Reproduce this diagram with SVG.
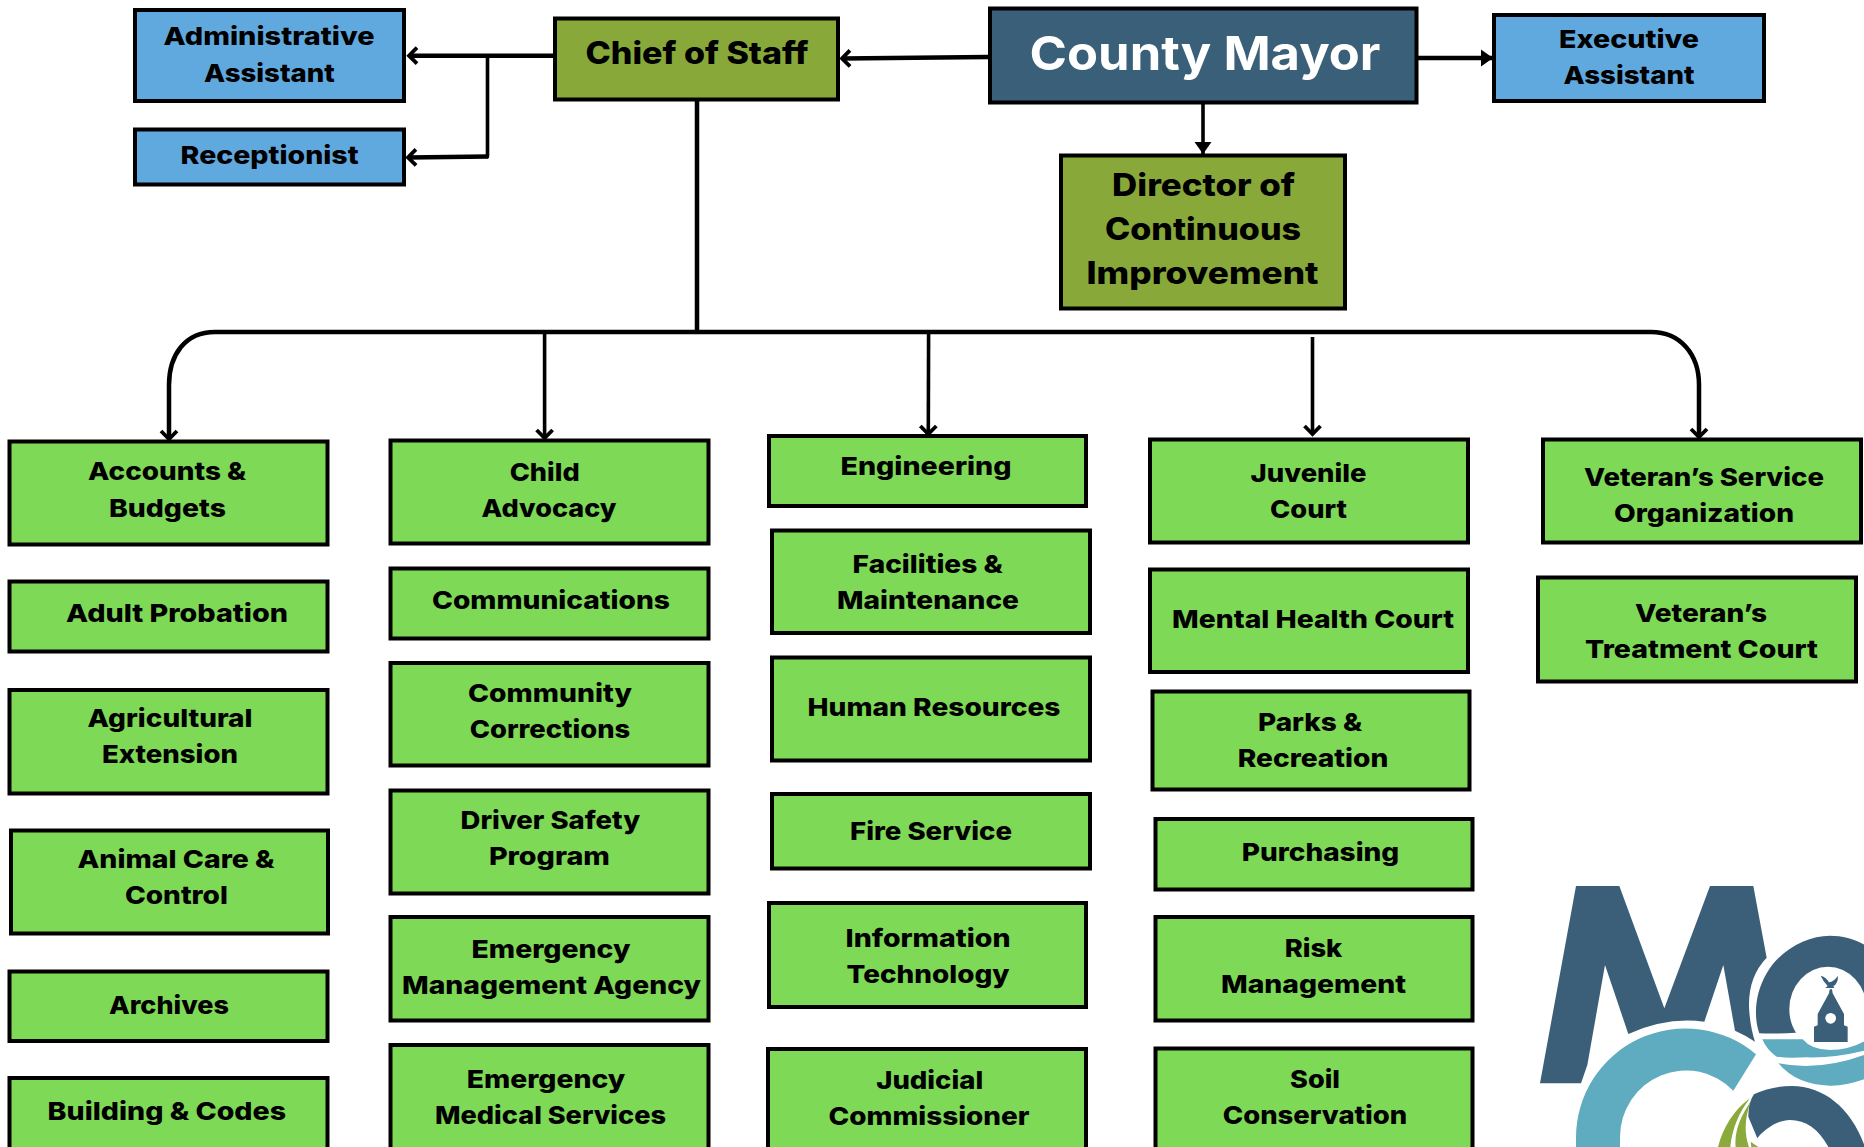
<svg xmlns="http://www.w3.org/2000/svg" width="1864" height="1147" viewBox="0 0 1864 1147">
<style>
text{font-family:"Inter","Liberation Sans",sans-serif;font-weight:800;fill:#000;text-anchor:middle;font-size:25px}
.box{stroke:#000;stroke-width:4}
.g{fill:#7ed957}.b{fill:#60a9df}.o{fill:#88a93a}.m{fill:#3a5f78}
.t{font-size:31px}.mt{font-size:47px;font-weight:700;fill:#fff}
.c{fill:none;stroke:#000;stroke-width:4.5}
.n{stroke-width:3.6}
.ld{fill:#3b5f78}.lt{fill:#5fabbf}.ll{fill:#8aab3c}
</style>
<defs>
<marker id="open" markerUnits="userSpaceOnUse" markerWidth="24" markerHeight="24" refX="14" refY="12" orient="auto"><path d="M6,4L14,12L6,20" fill="none" stroke="#000" stroke-width="3.8"/></marker>
<marker id="fill" markerUnits="userSpaceOnUse" markerWidth="24" markerHeight="24" refX="16" refY="12" orient="auto"><path d="M4,3.500L16,12L4,20.500Z" fill="#000"/></marker>
</defs>
<g id="connectors">
<path class="c" d="M553,55.700H409" marker-end="url(#open)"/>
<path class="c n" d="M487.500,55.700V156.500H489"/>
<path class="c" d="M488,156.500L408,157.500" marker-end="url(#open)"/>
<path class="c" d="M988,57L842,58.500" marker-end="url(#open)"/>
<path class="c" d="M1418,58H1493" marker-end="url(#fill)"/>
<path class="c n" d="M1203,104V154" marker-end="url(#fill)"/>
<path class="c" d="M697,101V332"/>
<path class="c" d="M215,332H1651C1681,332 1699,355 1699,385V437" marker-end="url(#open)"/>
<path class="c" d="M215,332C185,332 169,355 169,385V439" marker-end="url(#open)"/>
<path class="c n" d="M544.600,332V438" marker-end="url(#open)"/>
<path class="c n" d="M928.600,332L928.300,434" marker-end="url(#open)"/>
<path class="c n" d="M1312.500,337V434" marker-end="url(#open)"/>
</g>
<g id="county-mayor"><rect class="box m" x="990" y="8.500" width="426.500" height="94"/><text class="mt" x="1205" y="69.500" textLength="351" lengthAdjust="spacingAndGlyphs">County Mayor</text></g>
<g id="chief-of-staff"><rect class="box o" x="555" y="18.500" width="283" height="81"/><text class="t" x="697" y="64" textLength="223" lengthAdjust="spacingAndGlyphs">Chief of Staff</text></g>
<g id="administrative-assistant"><rect class="box b" x="135" y="10" width="269" height="91"/><text x="269" y="44.800" textLength="211" lengthAdjust="spacingAndGlyphs">Administrative</text><text x="269.400" y="82" textLength="131" lengthAdjust="spacingAndGlyphs">Assistant</text></g>
<g id="receptionist"><rect class="box b" x="135" y="129.500" width="269" height="55"/><text x="269.600" y="164" textLength="178" lengthAdjust="spacingAndGlyphs">Receptionist</text></g>
<g id="executive-assistant"><rect class="box b" x="1494" y="15" width="270" height="86"/><text x="1629" y="47.600" textLength="140" lengthAdjust="spacingAndGlyphs">Executive</text><text x="1629" y="83.500" textLength="131" lengthAdjust="spacingAndGlyphs">Assistant</text></g>
<g id="director"><rect class="box o" x="1061" y="155.500" width="284" height="153"/><text class="t" x="1203.600" y="196" textLength="183" lengthAdjust="spacingAndGlyphs">Director of</text><text class="t" x="1203" y="240" textLength="196" lengthAdjust="spacingAndGlyphs">Continuous</text><text class="t" x="1202.500" y="284" textLength="232" lengthAdjust="spacingAndGlyphs">Improvement</text></g>
<g id="accounts-budgets"><rect class="box g" x="9.500" y="441.500" width="318" height="103"/><text x="167" y="480" textLength="158" lengthAdjust="spacingAndGlyphs">Accounts &amp;</text><text x="167.400" y="517" textLength="117" lengthAdjust="spacingAndGlyphs">Budgets</text></g>
<g id="adult-probation"><rect class="box g" x="9.500" y="581.500" width="318" height="70"/><text x="177" y="621.600" textLength="222" lengthAdjust="spacingAndGlyphs">Adult Probation</text></g>
<g id="agricultural-extension"><rect class="box g" x="9.500" y="690" width="318" height="103.500"/><text x="170" y="727" textLength="165" lengthAdjust="spacingAndGlyphs">Agricultural</text><text x="170" y="762.500" textLength="136" lengthAdjust="spacingAndGlyphs">Extension</text></g>
<g id="animal-care"><rect class="box g" x="11" y="830.500" width="317" height="103"/><text x="176" y="868" textLength="197" lengthAdjust="spacingAndGlyphs">Animal Care &amp;</text><text x="176.400" y="904" textLength="103" lengthAdjust="spacingAndGlyphs">Control</text></g>
<g id="archives"><rect class="box g" x="9.500" y="971.500" width="318" height="69.500"/><text x="169" y="1014" textLength="120" lengthAdjust="spacingAndGlyphs">Archives</text></g>
<g id="building-codes"><rect class="box g" x="9.500" y="1078" width="318" height="90"/><text x="166.800" y="1119.500" textLength="238.400" lengthAdjust="spacingAndGlyphs">Building &amp; Codes</text></g>
<g id="child-advocacy"><rect class="box g" x="390.500" y="440.500" width="318" height="103"/><text x="544.700" y="480.600" textLength="70" lengthAdjust="spacingAndGlyphs">Child</text><text x="549" y="516.500" textLength="135" lengthAdjust="spacingAndGlyphs">Advocacy</text></g>
<g id="communications"><rect class="box g" x="390.500" y="568.500" width="318" height="70"/><text x="551" y="609" textLength="238" lengthAdjust="spacingAndGlyphs">Communications</text></g>
<g id="community-corrections"><rect class="box g" x="390.500" y="663" width="318" height="102.500"/><text x="550" y="702" textLength="164" lengthAdjust="spacingAndGlyphs">Community</text><text x="550" y="738" textLength="160.500" lengthAdjust="spacingAndGlyphs">Corrections</text></g>
<g id="driver-safety"><rect class="box g" x="390.500" y="790.500" width="318" height="103"/><text x="550.400" y="829" textLength="179.600" lengthAdjust="spacingAndGlyphs">Driver Safety</text><text x="549.400" y="865" textLength="121" lengthAdjust="spacingAndGlyphs">Program</text></g>
<g id="emergency-management"><rect class="box g" x="390.500" y="917" width="318" height="103.500"/><text x="551" y="958" textLength="159" lengthAdjust="spacingAndGlyphs">Emergency</text><text x="551.500" y="994" textLength="299" lengthAdjust="spacingAndGlyphs">Management Agency</text></g>
<g id="emergency-medical"><rect class="box g" x="390.500" y="1045" width="318" height="120"/><text x="546" y="1088" textLength="158.500" lengthAdjust="spacingAndGlyphs">Emergency</text><text x="550.500" y="1124" textLength="231" lengthAdjust="spacingAndGlyphs">Medical Services</text></g>
<g id="engineering"><rect class="box g" x="769" y="436" width="317" height="70"/><text x="926" y="474.700" textLength="171" lengthAdjust="spacingAndGlyphs">Engineering</text></g>
<g id="facilities"><rect class="box g" x="772" y="530.500" width="318" height="102.500"/><text x="927.600" y="573" textLength="150" lengthAdjust="spacingAndGlyphs">Facilities &amp;</text><text x="928" y="609" textLength="182" lengthAdjust="spacingAndGlyphs">Maintenance</text></g>
<g id="human-resources"><rect class="box g" x="772" y="657.500" width="318" height="103"/><text x="934" y="716" textLength="253" lengthAdjust="spacingAndGlyphs">Human Resources</text></g>
<g id="fire-service"><rect class="box g" x="772" y="794" width="318" height="74.500"/><text x="931" y="840" textLength="162" lengthAdjust="spacingAndGlyphs">Fire Service</text></g>
<g id="information-technology"><rect class="box g" x="769" y="903" width="317" height="104"/><text x="928" y="947" textLength="165" lengthAdjust="spacingAndGlyphs">Information</text><text x="928" y="983" textLength="163" lengthAdjust="spacingAndGlyphs">Technology</text></g>
<g id="judicial-commissioner"><rect class="box g" x="768" y="1049" width="318" height="120"/><text x="929.700" y="1089" textLength="107" lengthAdjust="spacingAndGlyphs">Judicial</text><text x="929" y="1125" textLength="201" lengthAdjust="spacingAndGlyphs">Commissioner</text></g>
<g id="juvenile-court"><rect class="box g" x="1150" y="439.500" width="318" height="103"/><text x="1308.600" y="482" textLength="116" lengthAdjust="spacingAndGlyphs">Juvenile</text><text x="1308.500" y="518" textLength="77" lengthAdjust="spacingAndGlyphs">Court</text></g>
<g id="mental-health-court"><rect class="box g" x="1150" y="569.500" width="318" height="102.500"/><text x="1313" y="628" textLength="282" lengthAdjust="spacingAndGlyphs">Mental Health Court</text></g>
<g id="parks-recreation"><rect class="box g" x="1152.500" y="691.500" width="317" height="98"/><text x="1310" y="730.700" textLength="104" lengthAdjust="spacingAndGlyphs">Parks &amp;</text><text x="1313" y="766.500" textLength="150.500" lengthAdjust="spacingAndGlyphs">Recreation</text></g>
<g id="purchasing"><rect class="box g" x="1155.500" y="819" width="317" height="70.500"/><text x="1320.500" y="860.600" textLength="157.500" lengthAdjust="spacingAndGlyphs">Purchasing</text></g>
<g id="risk-management"><rect class="box g" x="1155.500" y="917" width="317" height="103.500"/><text x="1313.500" y="957" textLength="57.600" lengthAdjust="spacingAndGlyphs">Risk</text><text x="1313.500" y="993" textLength="185" lengthAdjust="spacingAndGlyphs">Management</text></g>
<g id="soil-conservation"><rect class="box g" x="1155.500" y="1048.500" width="317" height="120"/><text x="1315" y="1088" textLength="50" lengthAdjust="spacingAndGlyphs">Soil</text><text x="1315" y="1124" textLength="184.500" lengthAdjust="spacingAndGlyphs">Conservation</text></g>
<g id="veterans-service"><rect class="box g" x="1543" y="439.500" width="318" height="103"/><text x="1704" y="485.700" textLength="240" lengthAdjust="spacingAndGlyphs">Veteran’s Service</text><text x="1704" y="521.600" textLength="180" lengthAdjust="spacingAndGlyphs">Organization</text></g>
<g id="veterans-treatment"><rect class="box g" x="1538" y="577.500" width="318" height="104"/><text x="1701" y="621.600" textLength="132" lengthAdjust="spacingAndGlyphs">Veteran’s</text><text x="1701.500" y="657.500" textLength="233" lengthAdjust="spacingAndGlyphs">Treatment Court</text></g>
<g id="logo" transform="translate(1500 860) scale(.33333)">
<path class="ld" d="M228,78H358L493,445L630,78H760L800,293Q745,350 747,440Q750,500 765,545Q735,525 705,512L670,315L613,485Q500,470 385,522L315,315L262,615L243,670H120Z"/>
<path class="lt" d="M768,583A328,328 0 0 0 228,833V875H360V833A198,200 0 0 1 700,692Z"/>
<path class="ld" fill-rule="evenodd" d="M778,520C760,470 765,400 800,340C840,270 920,227 990,227C1110,227 1210,330 1210,447C1210,480 1200,500 1195,520H1100V447A110,120 0 0 0 868,447C868,475 875,498 888,518Q830,522 778,520Z"/>
<path class="lt" d="M787,538H908Q935,570 990,570Q1050,570 1100,540V570Q1000,595 920,592Q860,595 830,590Q800,570 787,538Z"/>
<path class="lt" d="M835,610Q960,635 1100,582V655Q1040,678 990,677Q890,675 835,610Z"/>
<path class="ld" d="M942,546H1043V500L1032,496V462L998,400L996,388H989L987,400L953,462V496L942,500Z"/>
<circle cx="992" cy="475" r="16" fill="#fff"/>
<path class="ld" d="M962,347Q980,352 987,367Q1002,365 1014,347Q1014,372 1000,378L1003,384H976L983,378Q970,365 962,347Z"/>
<path class="ld" d="M762,703Q815,678 875,678C975,678 1060,750 1098,870H990C960,810 920,780 870,780C835,780 795,805 772,835L745,770Q745,725 762,703Z"/>
<path class="ll" d="M750,715C700,750 665,810 652,870H690C695,810 715,760 750,715Z"/>
<path class="ll" d="M752,725C720,770 700,820 708,870H750C730,820 735,770 752,725Z"/>
<path class="ll" d="M752,845L775,861L780,870H755Z"/>
</g>
</svg>
